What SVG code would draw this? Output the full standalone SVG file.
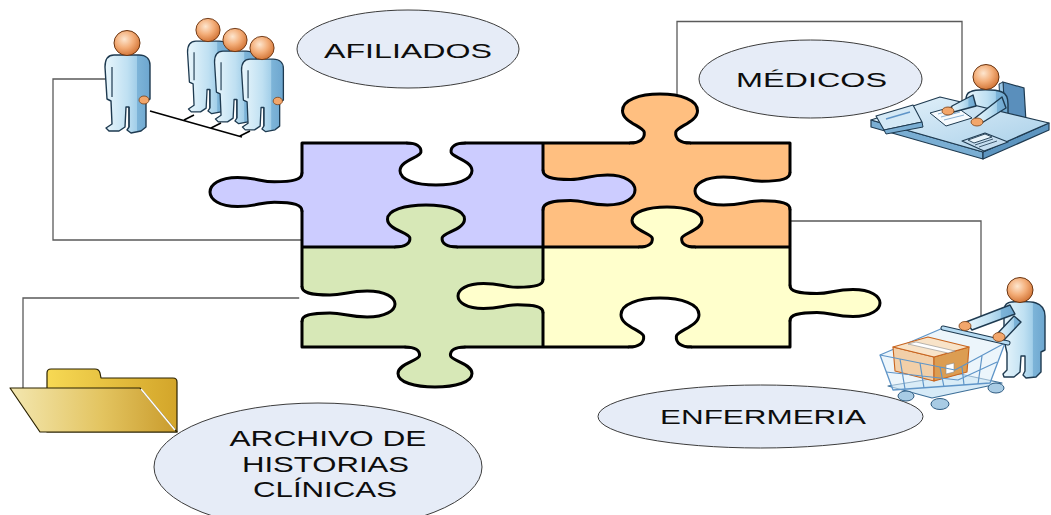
<svg xmlns="http://www.w3.org/2000/svg" width="1051" height="515" viewBox="0 0 1051 515">
  <defs>
    <style>
      .conn{fill:none;stroke:#5a5a5a;stroke-width:1.3}
      .edge{fill:none;stroke:#000;stroke-width:3;stroke-linecap:round;stroke-linejoin:round}
      .ks{fill:none;stroke:#000;stroke-width:3;stroke-linecap:round;stroke-linejoin:round}
      .bubble{fill:#e6ecf7;stroke:#3c3c3c;stroke-width:1}
      .lbl{font-family:"Liberation Sans",Arial,sans-serif;fill:#0d0d0d;text-anchor:middle}
      .p{fill:#ccccff}.o{fill:#ffbf80}.g{fill:#d7e8b7}.y{fill:#ffffcc}.w{fill:#ffffff}
      .body{fill:url(#gBody);stroke:#1e3a50;stroke-width:1.4;stroke-linejoin:round}
      .head{fill:url(#gHead);stroke:#6a3410;stroke-width:1}
      .hand{fill:#f2a66b;stroke:#7a3d12;stroke-width:0.8}
      .wire{fill:none;stroke:#5f95c8;stroke-width:1.2;stroke-linejoin:round}
      .dark{fill:none;stroke:#1e3a50;stroke-width:1.2;stroke-linejoin:round}
      .brk{fill:none;stroke:#000;stroke-width:1.6}
    </style>
    <linearGradient id="gBody" x1="0" y1="0" x2="1" y2="0">
      <stop offset="0" stop-color="#e9f6fc"/>
      <stop offset="0.5" stop-color="#bfe0f2"/>
      <stop offset="0.7" stop-color="#a3cfe9"/>
      <stop offset="0.72" stop-color="#7db4d8"/>
      <stop offset="1" stop-color="#6da6cf"/>
    </linearGradient>
    <radialGradient id="gHead" cx="0.4" cy="0.35" r="0.7">
      <stop offset="0" stop-color="#fde6cf"/>
      <stop offset="0.5" stop-color="#f3ad78"/>
      <stop offset="1" stop-color="#cf6f30"/>
    </radialGradient>
    <linearGradient id="gFB" x1="0" y1="0" x2="1" y2="0">
      <stop offset="0" stop-color="#f7d954"/>
      <stop offset="1" stop-color="#d3a52a"/>
    </linearGradient>
    <linearGradient id="gFF" x1="0" y1="0" x2="1" y2="0">
      <stop offset="0" stop-color="#f3e7b0"/>
      <stop offset="0.55" stop-color="#e3c460"/>
      <stop offset="1" stop-color="#c99b2c"/>
    </linearGradient>
    <linearGradient id="gDesk" x1="0" y1="0" x2="1" y2="1">
      <stop offset="0" stop-color="#e6f3fb"/>
      <stop offset="1" stop-color="#a6cee8"/>
    </linearGradient>

    <!-- puzzle knob (unit: bulb half-width 1, depth 1, pointing to -y) -->
    <path id="kF" d="M-0.8 0.06L-0.8 0C-0.55 0 -0.4 -0.08 -0.42 -0.22C-0.44 -0.34 -1 -0.42 -1 -0.66C-1 -0.88 -0.55 -1 0 -1C0.55 -1 1 -0.88 1 -0.66C1 -0.42 0.44 -0.34 0.42 -0.22C0.4 -0.08 0.55 0 0.8 0L0.8 0.06Z"/>
    <path id="kS" vector-effect="non-scaling-stroke" d="M-0.8 0C-0.55 0 -0.4 -0.08 -0.42 -0.22C-0.44 -0.34 -1 -0.42 -1 -0.66C-1 -0.88 -0.55 -1 0 -1C0.55 -1 1 -0.88 1 -0.66C1 -0.42 0.44 -0.34 0.42 -0.22C0.4 -0.08 0.55 0 0.8 0"/>
    <!-- long tongue knob for the side joints -->
    <path id="tF" d="M-1.3 0.03L-1.3 0C-0.9 0 -0.7 -0.08 -0.7 -0.3C-0.7 -0.45 -1 -0.5 -1 -0.7C-1 -0.9 -0.5 -1 0 -1C0.5 -1 1 -0.9 1 -0.7C1 -0.5 0.7 -0.45 0.7 -0.3C0.7 -0.08 0.9 0 1.3 0L1.3 0.03Z"/>
    <path id="tS" vector-effect="non-scaling-stroke" d="M-1.3 0C-0.9 0 -0.7 -0.08 -0.7 -0.3C-0.7 -0.45 -1 -0.5 -1 -0.7C-1 -0.9 -0.5 -1 0 -1C0.5 -1 1 -0.9 1 -0.7C1 -0.5 0.7 -0.45 0.7 -0.3C0.7 -0.08 0.9 0 1.3 0"/>

    <!-- standing person icon, head centre at origin -->
    <g id="man">
      <path class="body" d="M-13 12 L12 12 C19 12 23 16 23 22 L23 56 L19 58 L19 84 L14 88 L4 90 L0 87 L2 84 L2 64 L-1 64 L-2 84 L-8 88 L-18 88 L-21 85 L-15 81 L-16 58 L-20 56 L-22 24 C-22 16 -19 12 -13 12 Z"/>
      <path class="dark" d="M-15 24 L-15 54 M2 64 L2 84"/>
      <ellipse class="hand" cx="17" cy="57" rx="5" ry="4"/>
      <ellipse class="head" cx="0" cy="0" rx="13" ry="12.5"/>
    </g>
  </defs>

  <rect width="1051" height="515" fill="#ffffff"/>

  <g id="connectors" class="conn">
    <polyline points="106,79 53,79 53,240 304,240"/>
    <polyline points="677,100 677,21.5 962,21.5 962,104"/>
    <polyline points="786,221 981,221 981,320"/>
    <polyline points="300,298 23,298 23,390"/>
  </g>

  <g id="puzzle">
    <rect class="p" x="302" y="143" width="241" height="104"/>
    <rect class="o" x="543" y="143" width="247" height="104"/>
    <rect class="g" x="302" y="247" width="241" height="100"/>
    <rect class="y" x="543" y="247" width="247" height="100"/>
    <path class="edge" d="M302 143 H790 V347 H302 Z M543 143 V347 M302 247 H790"/>

    <use href="#kF" class="w" transform="translate(436 143) rotate(180) scale(36 42)"/>
    <use href="#kF" class="o" transform="translate(660 143) scale(37.5 49)"/>
    <use href="#tF" class="p" transform="translate(302 192) rotate(-90) scale(14.5 92)"/>
    <use href="#kF" class="g" transform="translate(426 247) scale(38.5 42)"/>
    <use href="#kF" class="y" transform="translate(667 247) scale(35 40)"/>
    <use href="#tF" class="p" transform="translate(543 190) rotate(90) scale(15 92)"/>
    <use href="#tF" class="y" transform="translate(543 296) rotate(-90) scale(12.5 85)"/>
    <use href="#tF" class="w" transform="translate(790 191) rotate(-90) scale(14 95)"/>
    <use href="#tF" class="y" transform="translate(790 303) rotate(90) scale(13.5 90)"/>
    <use href="#tF" class="w" transform="translate(302 304) rotate(90) scale(13 93)"/>
    <use href="#kF" class="g" transform="translate(435 347) rotate(180) scale(37 40)"/>
    <use href="#kF" class="w" transform="translate(660 347) scale(39 49)"/>

    <use href="#kS" class="ks" transform="translate(436 143) rotate(180) scale(36 42)"/>
    <use href="#kS" class="ks" transform="translate(660 143) scale(37.5 49)"/>
    <use href="#tS" class="ks" transform="translate(302 192) rotate(-90) scale(14.5 92)"/>
    <use href="#kS" class="ks" transform="translate(426 247) scale(38.5 42)"/>
    <use href="#kS" class="ks" transform="translate(667 247) scale(35 40)"/>
    <use href="#tS" class="ks" transform="translate(543 190) rotate(90) scale(15 92)"/>
    <use href="#tS" class="ks" transform="translate(543 296) rotate(-90) scale(12.5 85)"/>
    <use href="#tS" class="ks" transform="translate(790 191) rotate(-90) scale(14 95)"/>
    <use href="#tS" class="ks" transform="translate(790 303) rotate(90) scale(13.5 90)"/>
    <use href="#tS" class="ks" transform="translate(302 304) rotate(90) scale(13 93)"/>
    <use href="#kS" class="ks" transform="translate(435 347) rotate(180) scale(37 40)"/>
    <use href="#kS" class="ks" transform="translate(660 347) scale(39 49)"/>
  </g>

  <g id="afiliados">
    <use href="#man" transform="translate(127 43)"/>
    <use href="#man" transform="translate(208 30) scale(0.93)"/>
    <use href="#man" transform="translate(235 40) scale(0.93)"/>
    <use href="#man" transform="translate(262 48) scale(0.93)"/>
    <path class="brk" d="M150 111 L242 137 M184 120 L194 115 M211 128 L221 123 M240 136 L250 131"/>
    <ellipse class="bubble" cx="408" cy="49" rx="111" ry="39"/>
    <text class="lbl" x="408" y="57.5" font-size="21" textLength="168" lengthAdjust="spacingAndGlyphs">AFILIADOS</text>
  </g>

  <g id="medicos">
    <ellipse class="bubble" cx="810.5" cy="79" rx="111.5" ry="39"/>
    <text class="lbl" x="811.5" y="86.5" font-size="20" textLength="151" lengthAdjust="spacingAndGlyphs">MÉDICOS</text>
    <!-- chair -->
    <path d="M1003 82 L1024 88 L1026 122 L1005 118 Z" fill="#5a8fbc" stroke="#1e3a50" stroke-width="1.2"/>
    <path d="M999 84 L1003 82 L1005 118 L1001 119 Z" fill="#9cc8e6" stroke="#1e3a50" stroke-width="1"/>
    <!-- seated doctor -->
    <path class="body" d="M970 92 C975 89 995 89 1002 92 C1007 94 1008 99 1008 104 L1008 124 L968 124 L966 100 C966 96 967 93 970 92 Z"/>
    <ellipse class="head" cx="986" cy="77" rx="13" ry="12.5"/>
    <!-- desk -->
    <path d="M871 120 L871 127 L983 159 L983 152 Z" fill="#7aaed3" stroke="#1e3a50" stroke-width="1.2" stroke-linejoin="round"/>
    <path d="M983 152 L983 159 L1049 130 L1049 123 Z" fill="#5d95c0" stroke="#1e3a50" stroke-width="1.2" stroke-linejoin="round"/>
    <path d="M871 120 L940 97 L1049 123 L983 152 Z" fill="url(#gDesk)" stroke="#1e3a50" stroke-width="1.2" stroke-linejoin="round"/>
    <!-- name plate -->
    <path d="M876 116 L913 105 L922 122 L884 130 Z" fill="#d4e9f6" stroke="#1e3a50" stroke-width="1.1" stroke-linejoin="round"/>
    <path d="M884 130 L922 122 L923 127 L886 134 Z" fill="#7aaed3" stroke="#1e3a50" stroke-width="1"/>
    <path d="M886 119 L910 112" stroke="#5f95c8" stroke-width="1.5"/>
    <!-- paper -->
    <path d="M930 113 L955 106 L972 118 L946 126 Z" fill="#f7fbfe" stroke="#1e3a50" stroke-width="1"/>
    <path d="M938 114 L956 109 M941 117 L960 112 M944 120 L964 115" stroke="#7aa6cc" stroke-width="0.9"/>
    <!-- phone -->
    <path d="M962 141 L985 133 L1008 142 L984 151 Z" fill="#c5ddef" stroke="#1e3a50" stroke-width="1.1" stroke-linejoin="round"/>
    <path d="M968 140 L985 134 L992 137 L974 143 Z" fill="#e9f4fb" stroke="#1e3a50" stroke-width="0.9"/>
    <path d="M975 145 L993 139 M979 147 L997 141" stroke="#1e3a50" stroke-width="0.8"/>
    <!-- arms and hands -->
    <path class="body" d="M973 95 L952 106 L950 113 L976 106 Z"/>
    <path class="body" d="M1002 97 L1006 108 L980 124 L975 118 Z"/>
    <ellipse class="hand" cx="948" cy="111" rx="6" ry="4"/>
    <ellipse class="hand" cx="977" cy="122" rx="6" ry="4"/>
  </g>

  <g id="enfermeria">
    <ellipse class="bubble" cx="760.5" cy="416.5" rx="162.5" ry="31.5"/>
    <text class="lbl" x="763" y="423.5" font-size="20" textLength="206" lengthAdjust="spacingAndGlyphs">ENFERMERIA</text>
    <!-- nurse -->
    <path class="body" d="M1008 303 C1012 301 1030 301 1036 303 C1042 305 1045 310 1045 316 L1045 350 L1041 352 L1041 372 L1036 377 L1026 378 L1023 375 L1025 371 L1025 356 L1021 356 L1020 372 L1014 377 L1004 377 L1003 374 L1007 370 L1007 353 L1004 340 L1004 312 C1004 307 1005 304 1008 303 Z"/>
    <ellipse class="head" cx="1020" cy="290" rx="13" ry="12.5"/>
    <!-- trolley base and wheels -->
    <path d="M888 386 L960 374 L1002 383 L932 398 Z" fill="#d6eaf7" stroke="#3d6f98" stroke-width="1.2" stroke-linejoin="round"/>
    <ellipse cx="906" cy="396" rx="8" ry="5" fill="#a8cbe4" stroke="#2d5a80" stroke-width="1"/>
    <ellipse cx="940" cy="404" rx="9" ry="5.5" fill="#a8cbe4" stroke="#2d5a80" stroke-width="1"/>
    <ellipse cx="996" cy="388" rx="8" ry="5" fill="#a8cbe4" stroke="#2d5a80" stroke-width="1"/>
    <!-- basket -->
    <path d="M880 355 L943 328 L1005 343 L990 383 L893 390 Z" fill="#dcecf8" fill-opacity="0.55" stroke="#5f95c8" stroke-width="1.3" stroke-linejoin="round"/>
    <!-- box -->
    <path d="M893 347 L934 357 L934 381 L895 371 Z" fill="#f2cfa8" stroke="#c8641e" stroke-width="1.1" stroke-linejoin="round"/>
    <path d="M934 357 L969 347 L967 372 L934 381 Z" fill="#dc9d52" stroke="#c8641e" stroke-width="1.1" stroke-linejoin="round"/>
    <path d="M893 347 L928 337 L969 347 L934 357 Z" fill="#f8e3c8" stroke="#c8641e" stroke-width="1.1" stroke-linejoin="round"/>
    <path d="M908 344 L916 342 L955 351 L948 353 Z" fill="#ffffff" stroke="#8a8a8a" stroke-width="0.6"/>
    <path d="M946 365 L954 363 L954 372 L946 374 Z" fill="#ffffff" stroke="#8a8a8a" stroke-width="0.6"/>
    <!-- front wires -->
    <path class="wire" d="M880 355 L955 370 L1005 343 M900 359 L905 389 M920 363 L924 388 M940 367 L944 387 M962 367 L964 385 M982 356 L978 384 M886 372 L958 380 L997 362"/>
    <path d="M943 328 L1008 343" stroke="#1e3a50" stroke-width="5" stroke-linecap="round"/>
    <path d="M943 328 L1008 343" stroke="#b6dbf2" stroke-width="3" stroke-linecap="round"/>
    <!-- arms and hands -->
    <path class="body" d="M1010 305 L1015 314 L972 330 L966 322 Z"/>
    <path class="body" d="M1014 316 L1021 322 L1004 340 L997 334 Z"/>
    <ellipse class="hand" cx="965" cy="326" rx="6" ry="4.5"/>
    <ellipse class="hand" cx="999" cy="337" rx="6" ry="4.5"/>
  </g>

  <g id="archivo">
    <ellipse class="bubble" cx="318" cy="467" rx="164" ry="64"/>
    <text class="lbl" x="328" y="446" font-size="22" textLength="197" lengthAdjust="spacingAndGlyphs">ARCHIVO DE</text>
    <text class="lbl" x="325.5" y="471.5" font-size="22" textLength="167" lengthAdjust="spacingAndGlyphs">HISTORIAS</text>
    <text class="lbl" x="325" y="497" font-size="22" textLength="144" lengthAdjust="spacingAndGlyphs">CLÍNICAS</text>
    <!-- folder -->
    <path d="M47 380 L47 373 Q47 369 51 369 L95 369 Q99 369 100 373 L101 378 L173 378 Q177 378 177 382 L177 432 L47 432 Z" fill="url(#gFB)" stroke="#2b2200" stroke-width="1.2" stroke-linejoin="round"/>
    <path d="M10 388 L140 388 L177 432 L40 432 Z" fill="url(#gFF)" stroke="#2b2200" stroke-width="1.2" stroke-linejoin="round"/>
    <path d="M141 389 L175 430" stroke="#ffffff" stroke-width="1.6"/>
  </g>
</svg>
